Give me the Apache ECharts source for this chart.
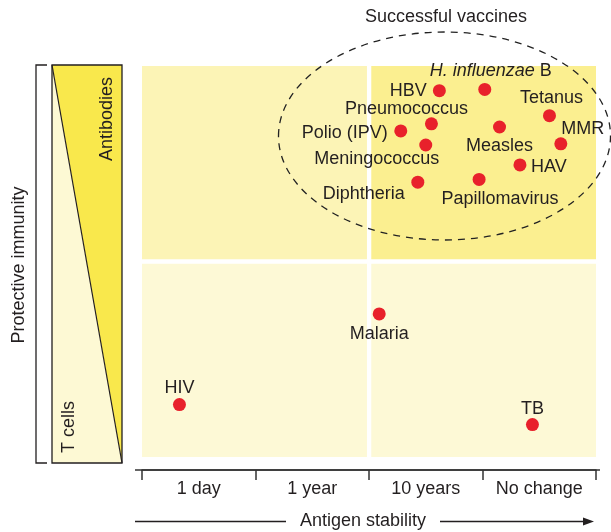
<!DOCTYPE html>
<html>
<head>
<meta charset="utf-8">
<script src="https://cdn.jsdelivr.net/npm/echarts@6/dist/echarts.min.js"></script>
<style>html,body{margin:0;padding:0;background:#fff}#c{width:611px;height:532px}</style>
</head>
<body>
<div id="c"></div>
<script>
// ---- data ----
const categories = ['1 day', '1 year', '10 years', 'No change'];
const pathogens = ['HBV', 'H. influenzae B', 'Tetanus', 'Pneumococcus', 'Polio (IPV)', 'Measles', 'MMR',
  'Meningococcus', 'HAV', 'Diphtheria', 'Papillomavirus', 'Malaria', 'HIV', 'TB'];
const antigenStability = [2.62, 3.02, 3.59, 2.55, 2.28, 3.15, 3.69, 2.50, 3.33, 2.43, 2.97, 2.09, 0.33, 3.44];
const protectiveImmunity = [9.37, 9.40, 8.73, 8.52, 8.34, 8.44, 8.01, 7.98, 7.47, 7.03, 7.10, 3.66, 1.34, 0.83];

// label placement (offset of label centre from dot centre, px)
const labelOffsets = {
  'HBV': [-31, 0], 'H. influenzae B': [6, -18], 'Tetanus': [2, -18], 'Pneumococcus': [-25, -15],
  'Polio (IPV)': [-56, 2], 'Measles': [0, 19], 'MMR': [22, -15], 'Meningococcus': [-49, 14],
  'HAV': [29, 2], 'Diphtheria': [-54, 12], 'Papillomavirus': [21, 20], 'Malaria': [0, 20],
  'HIV': [0, -17], 'TB': [0, -16]
};

const FONT = 'Liberation Sans, Arial, Helvetica, sans-serif';
const TXT = '#231f20';
const FS = 18;

const points = pathogens.map((n, i) => ({
  name: n,
  value: [antigenStability[i], protectiveImmunity[i]],
  label: {
    show: true, position: 'inside', offset: labelOffsets[n],
    formatter: n === 'H. influenzae B' ? '{i|H. influenzae} B' : n,
    rich: { i: { fontStyle: 'italic', fontSize: FS, color: TXT, fontFamily: FONT } }
  }
}));

const chart = echarts.init(document.getElementById('c'), null, { renderer: 'canvas' });
chart.setOption({
  backgroundColor: '#fff',
  animation: false,
  textStyle: { fontFamily: FONT },
  grid: { left: 142, right: 15, top: 66, bottom: 75 },
  xAxis: [
    { type: 'value', min: 0, max: 4, show: false },
    {
      type: 'category', data: categories, boundaryGap: true, position: 'bottom', offset: 13,
      axisLine: { show: true, lineStyle: { color: '#333', width: 1.5 } },
      axisTick: { show: true, length: 10, lineStyle: { color: '#333', width: 1.5 } },
      axisLabel: { fontSize: FS, color: TXT, margin: 10, fontFamily: FONT },
      splitLine: { show: false }
    }
  ],
  yAxis: { type: 'value', min: 0, max: 10, show: false },
  series: [{
    type: 'scatter',
    xAxisIndex: 0,
    symbol: 'circle',
    symbolSize: 13,
    itemStyle: { color: '#e8212b', opacity: 1 },
    label: { color: TXT, fontSize: FS, fontFamily: FONT },
    emphasis: { disabled: true },
    data: points,
    z: 5,
    markArea: {
      silent: true,
      data: [
        [{ coord: [-0.015, 5.06], itemStyle: { color: '#fcf4b6' } }, { coord: [1.982, 10] }],
        [{ coord: [2.02, 5.06], itemStyle: { color: '#fbef90' } }, { coord: [4.02, 10] }],
        [{ coord: [-0.015, 0], itemStyle: { color: '#fdf9d6' } }, { coord: [1.982, 4.94] }],
        [{ coord: [2.02, 0], itemStyle: { color: '#fdf9d6' } }, { coord: [4.02, 4.94] }]
      ]
    }
  }],
  graphic: [
    // successful vaccines ellipse
    { type: 'ellipse', shape: { cx: 444.5, cy: 136, rx: 166, ry: 104 }, z: 10,
      style: { fill: null, stroke: '#222', lineWidth: 1.3, lineDash: [7, 6] } },
    { type: 'text', x: 446, y: 17, z: 10,
      style: { text: 'Successful vaccines', fontSize: FS, fontFamily: FONT, fill: TXT, textAlign: 'center', textVerticalAlign: 'middle' } },
    // left panel
    { type: 'polygon', shape: { points: [[52, 65], [122, 65], [122, 463]] }, style: { fill: '#f9e84c', stroke: null } },
    { type: 'polygon', shape: { points: [[52, 65], [52, 463], [122, 463]] }, style: { fill: '#fdf9d4', stroke: null } },
    { type: 'rect', shape: { x: 52, y: 65, width: 70, height: 398 }, style: { fill: null, stroke: '#231f20', lineWidth: 1.3 } },
    { type: 'line', shape: { x1: 52, y1: 65, x2: 122, y2: 463 }, style: { stroke: '#231f20', lineWidth: 1.2 } },
    { type: 'text', x: 107, y: 119, rotation: Math.PI / 2,
      style: { text: 'Antibodies', fontSize: FS, fontFamily: FONT, fill: TXT, textAlign: 'center', textVerticalAlign: 'middle' } },
    { type: 'text', x: 69, y: 427, rotation: Math.PI / 2,
      style: { text: 'T cells', fontSize: FS, fontFamily: FONT, fill: TXT, textAlign: 'center', textVerticalAlign: 'middle' } },
    { type: 'polyline', shape: { points: [[47, 65], [36, 65], [36, 463], [47, 463]] }, style: { fill: null, stroke: '#231f20', lineWidth: 1.3 } },
    { type: 'text', x: 19, y: 265, rotation: Math.PI / 2,
      style: { text: 'Protective immunity', fontSize: FS, fontFamily: FONT, fill: TXT, textAlign: 'center', textVerticalAlign: 'middle' } },
    // axis line extension
    { type: 'line', shape: { x1: 135, y1: 470, x2: 600, y2: 470 }, style: { stroke: '#333', lineWidth: 1.5 } },
    // bottom arrow
    { type: 'line', shape: { x1: 135, y1: 521.5, x2: 286, y2: 521.5 }, style: { stroke: '#231f20', lineWidth: 1.3 } },
    { type: 'line', shape: { x1: 440, y1: 521.5, x2: 588, y2: 521.5 }, style: { stroke: '#231f20', lineWidth: 1.3 } },
    { type: 'polygon', shape: { points: [[583, 517.5], [594, 521.5], [583, 525.5]] }, style: { fill: '#231f20' } },
    { type: 'text', x: 363, y: 521.5,
      style: { text: 'Antigen stability', fontSize: FS, fontFamily: FONT, fill: TXT, textAlign: 'center', textVerticalAlign: 'middle' } }
  ]
});
</script>
</body>
</html>
